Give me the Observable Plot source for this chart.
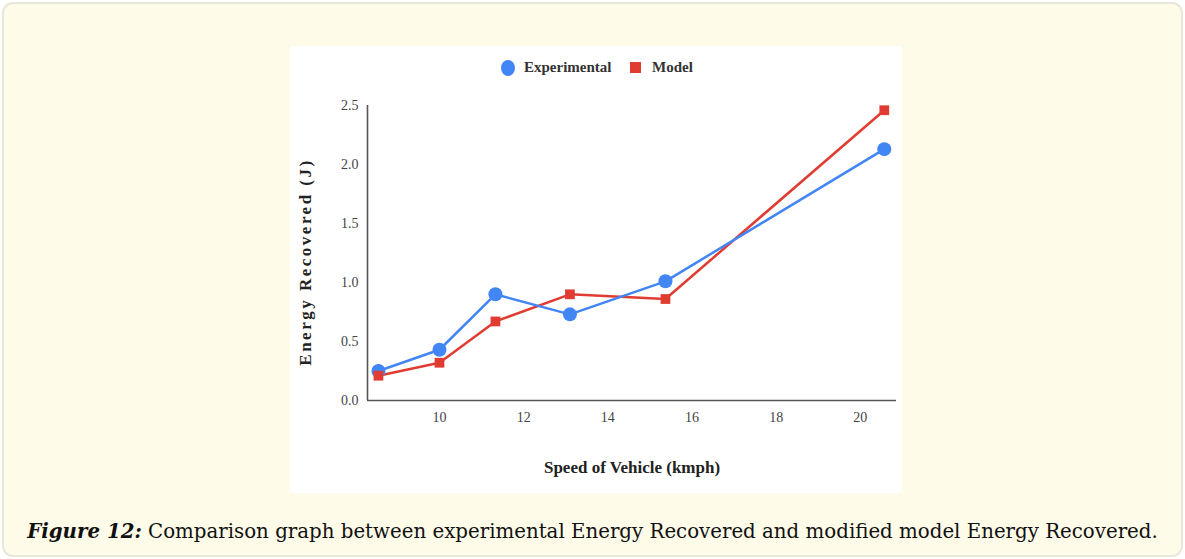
<!DOCTYPE html>
<html>
<head>
<meta charset="utf-8">
<script src="https://cdn.jsdelivr.net/npm/d3@7"></script>
<script src="https://cdn.jsdelivr.net/npm/@observablehq/plot@0.6"></script>
<style>
  html, body { margin: 0; padding: 0; background: #ffffff; width: 1185px; height: 559px; overflow: hidden; }
  #box { position: absolute; left: 2px; top: 2px; width: 1177px; height: 551px; border: 2px solid #e9e6da; border-radius: 11px; background: #fefbe9; }
  #panel { position: absolute; left: 290px; top: 46px; width: 612px; height: 447px; background: #ffffff; }
  #legend { position: absolute; left: 0; top: 0; width: 612px; height: 44px; font-family: "Liberation Serif", serif; font-weight: bold; font-size: 15px; color: #333; }
  .lg { position: absolute; top: 13px; display: flex; align-items: center; }
  .sw { display: inline-block; margin-right: 9px; }
  #chart { position: absolute; left: 0; top: 44px; }
  #caption { position: absolute; left: 0; top: 519px; width: 1185px; text-align: center; font-family: "DejaVu Serif", serif; font-size: 19.8px; color: #111; white-space: nowrap; }
</style>
</head>
<body>
<div id="box"></div>
<div id="panel">
  <div id="legend">
    <div class="lg" style="left:211px"><span class="sw" style="width:14px;height:16px;border-radius:50%;background:#4285f4"></span>Experimental</div>
    <div class="lg" style="left:340px"><span class="sw" style="width:11px;height:11px;background:#e03c31;margin-right:11px"></span>Model</div>
  </div>
  <div id="chart"></div>
</div>
<div id="caption"><b><i>Figure 12:</i></b> Comparison graph between experimental Energy Recovered and modified model Energy Recovered.</div>
<script>
const speed = [8.55, 10, 11.33, 13.1, 15.37, 20.57];
const experimental = [0.25, 0.43, 0.90, 0.73, 1.01, 2.13];
const model = [0.21, 0.32, 0.67, 0.90, 0.86, 2.46];
const xTicks = [10, 12, 14, 16, 18, 20];
const yTicks = [0, 0.5, 1.0, 1.5, 2.0, 2.5];
const xLabel = "Speed of Vehicle (kmph)";
const yLabel = "Energy Recovered (J)";

const expData = speed.map((s, i) => ({speed: s, value: experimental[i]}));
const modData = speed.map((s, i) => ({speed: s, value: model[i]}));

const blue = "#4285f4";
const red = "#e03c31";

const chart = Plot.plot({
  width: 612,
  height: 403,
  marginLeft: 77,
  marginRight: 6,
  marginTop: 15,
  marginBottom: 93,
  style: {fontFamily: "Liberation Serif, serif", fontSize: "14px", color: "#444", background: "transparent"},
  x: {domain: [8.29, 20.86], ticks: xTicks},
  y: {domain: [0, 2.5], ticks: yTicks},
  marks: [
    Plot.axisX({ticks: xTicks, tickSize: 0, tickPadding: 12, label: null, fontSize: 14}),
    Plot.axisY({ticks: yTicks, tickSize: 0, tickPadding: 9, tickFormat: d3.format(".1f"), label: null, fontSize: 14}),
    Plot.ruleY([0], {stroke: "#555", strokeWidth: 1.6}),
    Plot.ruleX([8.29], {stroke: "#555", strokeWidth: 1.6}),
    Plot.line(modData, {x: "speed", y: "value", stroke: red, strokeWidth: 2.5}),
    Plot.line(expData, {x: "speed", y: "value", stroke: blue, strokeWidth: 2.5}),
    Plot.dot(expData, {x: "speed", y: "value", r: 7, fill: blue}),
    Plot.dot(modData, {x: "speed", y: "value", symbol: "square", r: 5.5, fill: red}),
    Plot.text([xLabel], {frameAnchor: "bottom", dy: 72, text: d => d, fontWeight: "bold", fontSize: 17, fill: "#222"}),
    Plot.text([yLabel], {frameAnchor: "left", textAnchor: "middle", dx: -62, dy: 9, rotate: -90, text: d => d, fontWeight: "bold", fontSize: 17, fill: "#222"})
  ]
});
const textGroups = chart.querySelectorAll('g[aria-label="text"]');
if (textGroups.length) textGroups[textGroups.length - 1].style.letterSpacing = "2.5px";
document.getElementById("chart").appendChild(chart);
</script>
</body>
</html>
